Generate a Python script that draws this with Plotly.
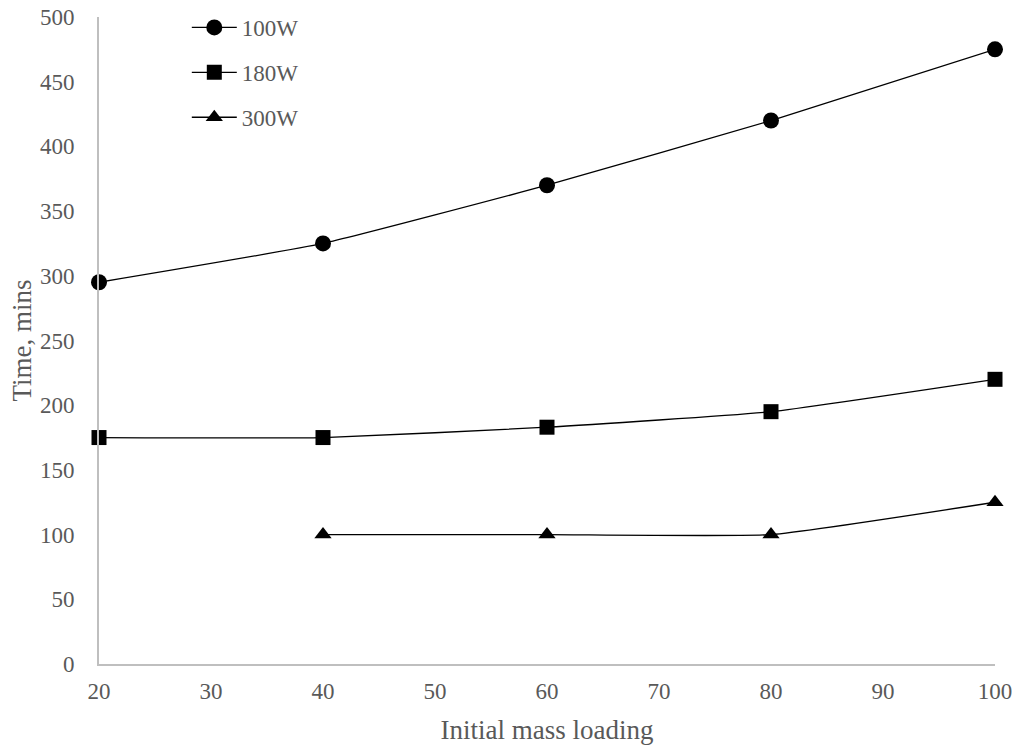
import plotly.graph_objects as go

x = [20, 40, 60, 80, 100]
w100 = [295, 325, 370, 420, 475]
w180 = [175, 175, 183, 195, 220]
w300 = [None, 100, 100, 100, 125]
names = ["100W", "180W", "300W"]
symbols = ["circle", "square", "triangle-up"]
sizes = [16, 15, 15]

fig = go.Figure()
for ys, nm, sym, sz in zip([w100, w180, w300], names, symbols, sizes):
    fig.add_trace(go.Scatter(
        x=x, y=ys, name=nm, mode="lines+markers", legendgroup=nm,
        line=dict(color="black", width=1.3, shape="spline", smoothing=0.4),
        marker=dict(symbol=sym, size=sz, color="black"),
        connectgaps=False, cliponaxis=False,
    ))

font = dict(family="Liberation Serif, Times New Roman, serif", color="#595959")
fig.update_layout(
    width=1020, height=745,
    margin=dict(l=99, r=25, t=17, b=81, autoexpand=False),
    plot_bgcolor="white", paper_bgcolor="white",
    font=dict(**font, size=23),
    showlegend=True,
    legend=dict(x=0.098, y=1.017, xanchor="left", yanchor="top",
                font=dict(**font, size=23), bgcolor="rgba(0,0,0,0)",
                itemwidth=45, tracegroupgap=12, traceorder="grouped"),
    xaxis=dict(range=[20, 100], tickvals=[20, 30, 40, 50, 60, 70, 80, 90, 100],
               showgrid=False, zeroline=False, showline=True, automargin=False,
               linecolor="#bfbfbf", linewidth=2, ticks="",
               ticklabelstandoff=5, ticklabeloverflow="allow",
               title=dict(text="Initial mass loading", font=dict(**font, size=27), standoff=20),
               tickfont=dict(**font, size=23)),
    yaxis=dict(range=[0, 500], tickvals=list(range(0, 501, 50)),
               showgrid=False, zeroline=False, showline=True, automargin=False,
               linecolor="#bfbfbf", linewidth=2, ticks="",
               ticklabelstandoff=18, ticklabeloverflow="allow",
               title=dict(text="Time, mins", font=dict(**font, size=27), standoff=0),
               tickfont=dict(**font, size=23)),
)
fig.write_html("out.html", config={"displayModeBar": False},
               post_script="document.body.style.margin='0';document.body.style.overflow='hidden';")
